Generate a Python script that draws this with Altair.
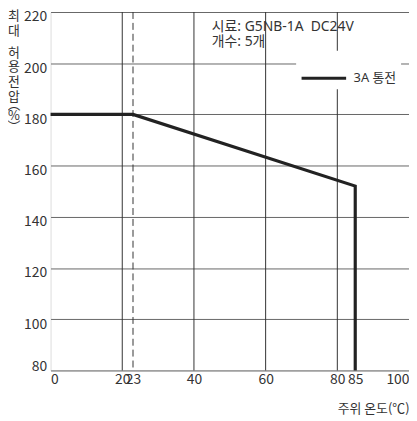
import altair as alt
import pandas as pd

CJK = "Noto Sans CJK KR"
MIX = "Noto Sans, Noto Sans CJK KR"

# Series: 3A 통전
series_name = "3A 통전"
temp = [0, 23, 85, 85]
volt = [180, 180, 152, 80]
order = [0, 1, 2, 3]

# vertical guide lines
grid_x_solid = [20, 40, 60, 80]
grid_x_dashed = [23]

x_ticks = [0, 20, 23, 40, 60, 80, 85, 100]
y_ticks = [80, 100, 120, 140, 160, 180, 200, 220]

note_lines = ["시료: G5NB-1A\u00a0\u00a0DC24V", "개수: 5개"]
note_x = [45, 45]
note_y = [214.2, 208.4]

y_title_a = ["최", "대"]
y_title_b = ["허", "용", "전", "압"]
y_title_c = ["︵", "%", "︶"]
x_title = "주위 온도(℃)"

line_df = pd.DataFrame({"temp": temp, "volt": volt, "order": order,
                        "series": [series_name] * len(temp)})
solid_df = pd.DataFrame({"x": grid_x_solid})
dashed_df = pd.DataFrame({"x": grid_x_dashed})
note_df = pd.DataFrame({"text": note_lines, "x": note_x, "y": note_y})

xscale = alt.Scale(domain=[0, 100], nice=False, zero=False)
yscale = alt.Scale(domain=[80, 220], nice=False, zero=False)

x_axis = alt.Axis(values=x_ticks, grid=False, ticks=False, domain=False,
                  labelFont=CJK, labelFontSize=14, labelColor="#333",
                  labelPadding=2, labelFlush=True, labelOverlap=False,
                  title=x_title, titleFont=CJK, titleFontSize=13,
                  titleFontWeight="normal", titleColor="#333",
                  titleAnchor="end", titleAlign="right", titleX=362,
                  titleY=38, titleBaseline="middle")

y_axis = alt.Axis(values=y_ticks, grid=True, gridColor="#666", gridWidth=1,
                  ticks=False, domain=False,
                  labelFont=CJK, labelFontSize=14, labelColor="#333",
                  labelPadding=4,
                  labelOffset={"condition": {"test": "datum.value === 80", "value": -4}, "value": 5},
                  title=None)

base_grid = alt.Chart(solid_df).mark_rule(color="#333", strokeWidth=1).encode(
    x=alt.X("x:Q", scale=xscale, axis=x_axis),
)

dashed = alt.Chart(dashed_df).mark_rule(color="#333", strokeWidth=1,
                                         strokeDash=[7, 4]).encode(
    x=alt.X("x:Q", scale=xscale),
)

line = alt.Chart(line_df).mark_line(strokeWidth=3.2).encode(
    x=alt.X("temp:Q", scale=xscale),
    y=alt.Y("volt:Q", scale=yscale, axis=y_axis),
    order="order:Q",
    color=alt.Color("series:N",
                    scale=alt.Scale(domain=[series_name], range=["#222"]),
                    legend=alt.Legend(title=None, orient="none",
                                      legendX=248, legendY=39,
                                      symbolType="stroke", symbolSize=2025,
                                      symbolStrokeWidth=3,
                                      labelFont=MIX, labelFontSize=13,
                                      labelColor="#333", labelOffset=6,
                                      fillColor="white", padding=4)),
)

notes = alt.Chart(note_df).mark_text(align="left", baseline="middle",
                                     font=MIX, fontSize=14, color="#333").encode(
    x=alt.X("x:Q", scale=xscale),
    y=alt.Y("y:Q", scale=yscale),
    text="text:N",
)


def stacked(chars, top, lh):
    df = pd.DataFrame({"t": ["\n".join(chars)]})
    return alt.Chart(df).mark_text(align="center", baseline="top",
                                   font=CJK, fontSize=13, color="#333",
                                   lineBreak="\n", lineHeight=lh).encode(
        x=alt.value(-37), y=alt.value(top), text="t:N",
    )


yt1 = stacked(y_title_a, -2, 15)
yt2 = stacked(y_title_b, 35, 15)
yt3 = stacked(y_title_c, 88, 11)

chart = alt.layer(base_grid, dashed, line, notes, yt1, yt2, yt3).properties(
    width=362, height=362,
    autosize=alt.AutoSizeParams(type="none"),
    padding={"left": 43, "top": 2, "right": 0, "bottom": 48},
).configure_view(stroke="#333", strokeWidth=1.5).configure(background="white")

chart.save("out.html", embed_options={"renderer": "svg", "actions": False})
